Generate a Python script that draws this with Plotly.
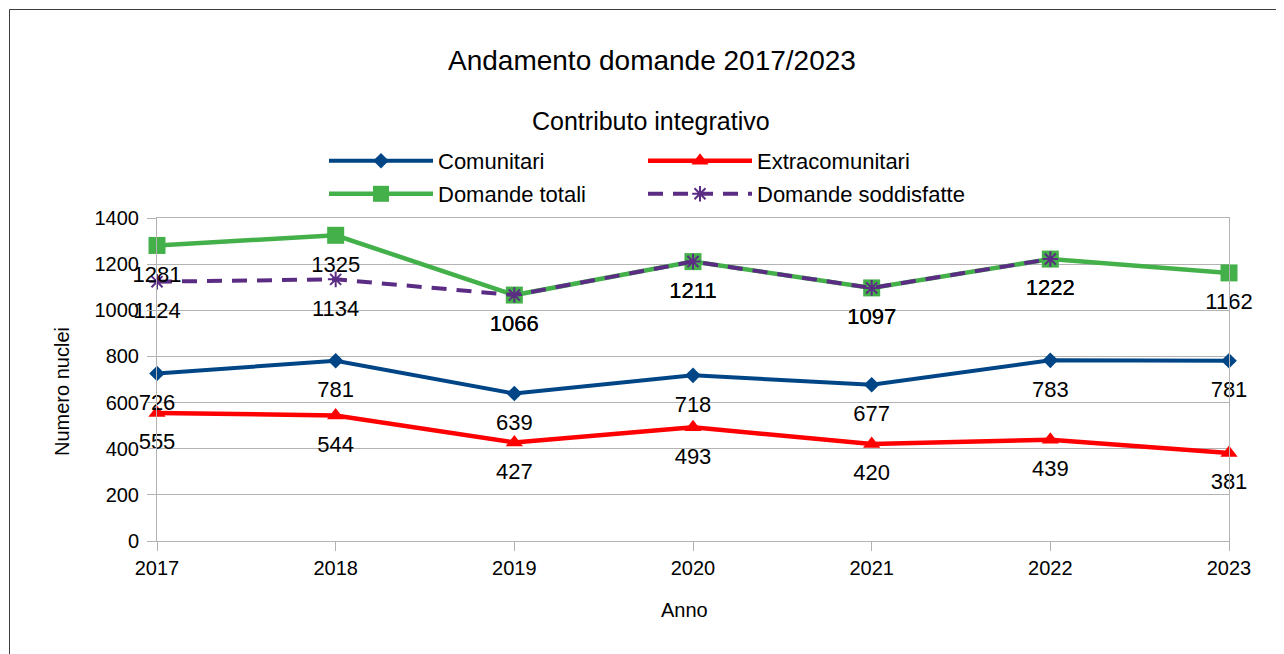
import plotly.graph_objects as go

years = [2017, 2018, 2019, 2020, 2021, 2022, 2023]
comunitari = [726, 781, 639, 718, 677, 783, 781]
extracomunitari = [555, 544, 427, 493, 420, 439, 381]
domande_totali = [1281, 1325, 1066, 1211, 1097, 1222, 1162]
domande_soddisfatte = [1124, 1134, 1066, 1211, 1097, 1222, None]

FONT = "Liberation Sans"
W, H = 1284, 654
OFF = 8  # page body margin in the browser
ML, MR, MT, MB = 157 - OFF, 63, 218 - OFF, 121
PW, PH = W - ML - MR, H - MT - MB


def px(x):
    return (x - OFF - ML) / PW


def py(y):
    return 1 - (y - OFF - MT) / PH


def lbl(v):
    return [("" if a is None else str(a)) for a in v]


series = [
    ("Comunitari", comunitari, "#004586", 4, "solid",
     dict(symbol="diamond", size=12), "legend"),
    ("Extracomunitari", extracomunitari, "#ff0000", 4.5, "solid",
     dict(symbol="triangle-up", size=15), "legend2"),
    ("Domande totali", domande_totali, "#43b04a", 4.5, "solid",
     dict(symbol="square", size=17), "legend3"),
    ("Domande soddisfatte", domande_soddisfatte, "#5b2c83", 4, "15px,10px",
     dict(symbol="asterisk-open", size=13), "legend4"),
]

fig = go.Figure()

for name, vals, color, lw, dash, mk, leg in series:
    marker = dict(color=color, **mk)
    if mk["symbol"].endswith("open"):
        marker["line"] = dict(color=color, width=2)
    fig.add_trace(go.Scatter(
        x=years, y=vals, name=name, mode="lines+markers",
        line=dict(color=color, width=lw, dash=dash),
        marker=marker, cliponaxis=False, legend=leg, connectgaps=False,
        hoverinfo="skip",
    ))

# data labels below every point
for name, vals, color, lw, dash, mk, leg in series:
    fig.add_trace(go.Scatter(
        x=years, y=vals, mode="markers+text", showlegend=False,
        marker=dict(size=30, opacity=0, color=color),
        text=lbl(vals), textposition="bottom center",
        textfont=dict(family=FONT, size=22, color="#000000"),
        cliponaxis=False, hoverinfo="skip",
    ))

legend_common = dict(
    orientation="v", itemwidth=104,
    xanchor="left", yanchor="middle", bgcolor="rgba(0,0,0,0)",
    font=dict(family=FONT, size=22, color="#000000"),
    itemclick=False, itemdoubleclick=False,
)

fig.update_layout(
    width=W, height=H,
    margin=dict(l=ML, r=MR, t=MT, b=MB),
    paper_bgcolor="white", plot_bgcolor="white",
    font=dict(family=FONT, size=20, color="#000000"),
    showlegend=True,
    legend=dict(x=px(324), y=py(161), **legend_common),
    legend2=dict(x=px(643), y=py(161), **legend_common),
    legend3=dict(x=px(324), y=py(194), **legend_common),
    legend4=dict(x=px(643), y=py(194), **legend_common),
    xaxis=dict(
        range=[2017, 2023], tickmode="array", tickvals=years,
        ticktext=[str(y) for y in years],
        showgrid=False, showline=True, mirror=True, linecolor="#b3b3b3", linewidth=1,
        ticks="outside", ticklen=9, tickcolor="#b3b3b3",
        tickfont=dict(family=FONT, size=20, color="#000000"),
        zeroline=False, fixedrange=True,
    ),
    yaxis=dict(
        range=[0, 1400], dtick=200, tick0=0,
        showgrid=True, gridcolor="#b3b3b3", gridwidth=1,
        showline=True, mirror=True, linecolor="#b3b3b3", linewidth=1,
        ticks="outside", ticklen=9, tickcolor="#b3b3b3",
        ticklabelstandoff=4,
        tickfont=dict(family=FONT, size=20, color="#000000"),
        zeroline=False, fixedrange=True,
    ),
    annotations=[
        dict(text="Andamento domande 2017/2023", xref="paper", yref="paper",
             x=px(652), y=py(60), xanchor="center", yanchor="middle", showarrow=False,
             font=dict(family=FONT, size=28, color="#000000")),
        dict(text="Contributo integrativo", xref="paper", yref="paper",
             x=px(651), y=py(121), xanchor="center", yanchor="middle", showarrow=False,
             font=dict(family=FONT, size=25, color="#000000")),
        dict(text="Numero nuclei", xref="paper", yref="paper", textangle=-90,
             x=px(62), y=py(392), xanchor="center", yanchor="middle", showarrow=False,
             font=dict(family=FONT, size=20, color="#000000")),
        dict(text="Anno", xref="paper", yref="paper",
             x=px(684), y=py(610), xanchor="center", yanchor="middle", showarrow=False,
             font=dict(family=FONT, size=20, color="#000000")),
    ],
    shapes=[
        dict(type="line", xref="paper", yref="paper", x0=px(9.5), x1=px(9.5),
             y0=py(700), y1=py(9.5), line=dict(color="#3c3c3c", width=1)),
        dict(type="line", xref="paper", yref="paper", x0=px(9.5), x1=px(1300),
             y0=py(9.5), y1=py(9.5), line=dict(color="#3c3c3c", width=1)),
    ],
)

fig.write_html("out.html")
